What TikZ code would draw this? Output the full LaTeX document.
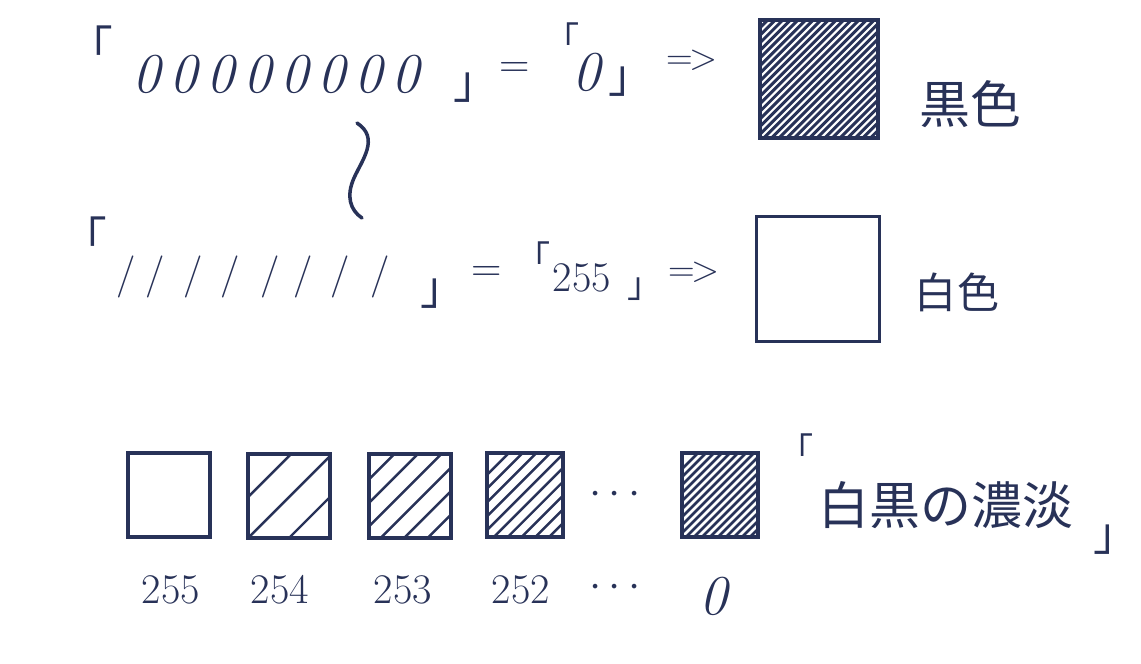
\documentclass[tikz,border=0pt]{standalone}
\usepackage{fontspec}
\newfontfamily\cjk{Noto Sans CJK JP}
\usetikzlibrary{calc}
\definecolor{ink}{RGB}{40,50,88}
\newcommand{\obr}{\kern-0.5em「}
\newcommand{\cbr}{」\kern-0.5em}
\begin{document}
\begin{tikzpicture}[x=0.02cm,y=-0.02cm,
  every node/.style={text=ink, inner sep=0pt, outer sep=0pt},
  zero/.style={font=\fontsize{32}{32}\selectfont\itshape},
  slash/.style={font=\fontsize{24}{24}\selectfont},
  num/.style={font=\fontsize{24}{24}\selectfont},
  eq/.style={font=\fontsize{24}{24}\selectfont},
  arr/.style={font=\fontsize{21}{21}\selectfont},
  brk/.style={font=\cjk\fontsize{26}{26}\selectfont},
  sbrk/.style={font=\cjk\fontsize{20}{20}\selectfont},
  jp/.style={font=\cjk\fontsize{29}{29}\selectfont},
  sq/.style={draw=ink, line width=1.8pt, rectangle, minimum width=1.64cm, minimum height=1.68cm},
  hatchline/.style={draw=ink, line width=1.4pt},
  hatch/.style={path picture={
    \foreach \k in {1,...,#1}{
      \pgfmathsetmacro\off{-1+2*\k/(#1+1)}
      \draw[hatchline] ($(path picture bounding box.south west)!\off!(path picture bounding box.south east)$) -- ++(4cm,4cm);
    }}},
  wave/.style={draw=ink, line width=2pt, line cap=round}
]
\useasboundingbox[fill=white] (0,0) rectangle (1141,663);

% ---- row 1
\node[brk] (b1o) at (102,45) {\obr};
\foreach \i in {1,...,8}{
  \node[zero] (z\i) at ({147+37*(\i-1)},74) {0};
}
\node[brk] (b1c) at (465,88) {\cbr};
\node[eq] (eq1) at (515,70) {=};
\node[sbrk] (b2o) at (571,38) {\obr};
\node[zero] (zz) at (587,72) {0};
\node[brk] (b2c) at (620,82) {\cbr};
\node[arr] (ar1) at (692,60) {=\kern-.12em>};
\node[sq, minimum width=2.36cm, minimum height=2.36cm, hatch=30, line width=2pt, hatchline/.append style={line width=1.7pt}] (black) at (819,79) {};
\node[jp] (kuro) at (970,104) {黒色};

% ---- wave
\coordinate (wt) at (357,123);
\coordinate (wb) at (362,218);
\draw[wave] (wt) .. controls (380,138) and (362,160) .. (354,178) .. controls (346,196) and (350,210) .. (wb);

% ---- row 2
\node[brk] (b3o) at (96,236) {\obr};
\foreach \x [count=\i] in {126,155,193,230,270,303,340,380}{
  \node[slash] (s\i) at (\x,277) {/};
}
\node[brk] (b3c) at (432,294) {\cbr};
\node[eq] (eq2) at (487,274) {=};
\node[sbrk] (b4o) at (542,257) {\obr};
\node[num] (n255) at (582,278) {255};
\node[sbrk] (b4c) at (636,289) {\cbr};
\node[arr] (ar2) at (694,272) {=\kern-.12em>};
\node[sq, minimum width=2.46cm, minimum height=2.5cm, line width=2pt] (white) at (818,279) {};
\node[jp, font=\cjk\fontsize{24}{24}\selectfont] (shiro) at (957,292) {白色};

% ---- row 3
\node[sq] (q1) at (169,495) {};
\node[sq, hatch=3] (q2) at (289,496) {};
\node[sq, hatch=6] (q3) at (410,496) {};
\node[sq, hatch=10, minimum width=1.52cm] (q4) at (525,495) {};
\node[num] (dots) at (615,495) {$\cdots$};
\node[sq, hatch=18, minimum width=1.52cm, hatchline/.append style={line width=1.5pt}] (q5) at (720,495) {};

\node[num] (l1) at (171,590) {255};
\node[num] (l2) at (280,590) {254};
\node[num] (l3) at (403,590) {253};
\node[num] (l4) at (521,590) {252};
\node[num] (l5) at (615,588) {$\cdots$};
\node[zero] (l6) at (714,596) {0};

\node[sbrk] (b5o) at (805,449) {\obr};
\node[jp] (notan) at (946,505) {白黒の濃淡};
\node[brk] (b5c) at (1105,540) {\cbr};
\end{tikzpicture}
\end{document}
